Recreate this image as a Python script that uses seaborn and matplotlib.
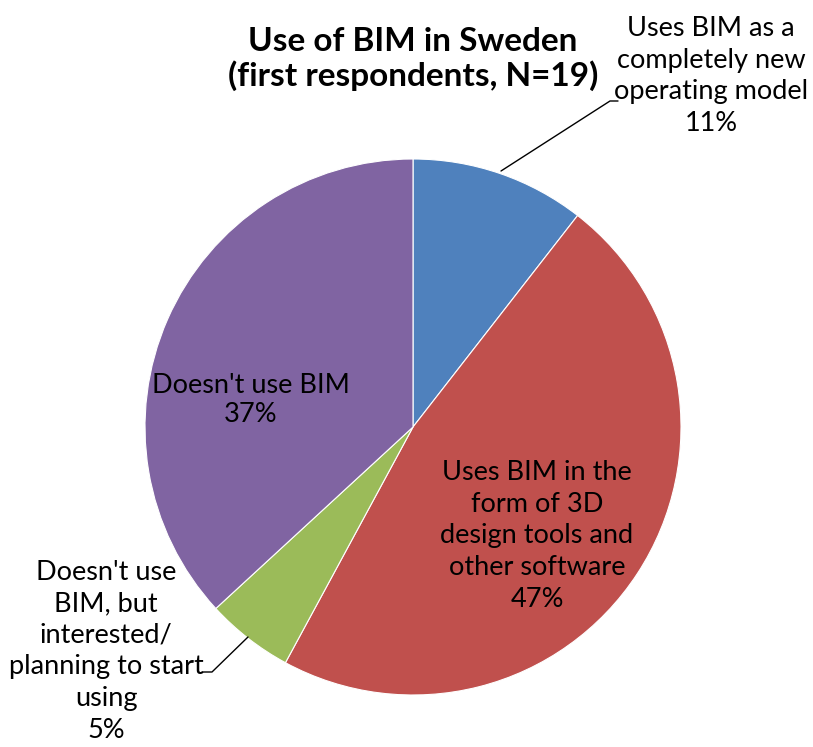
import matplotlib
matplotlib.use("Agg")
import matplotlib.pyplot as plt
import seaborn as sns

categories = ["Uses BIM as a\ncompletely new\noperating model",
              "Uses BIM in the\nform of 3D\ndesign tools and\nother software",
              "Doesn't use\nBIM, but\ninterested/\nplanning to start\nusing",
              "Doesn't use BIM"]
counts = [2, 9, 1, 7]
percent_labels = ["11%", "47%", "5%", "37%"]
title = "Use of BIM in Sweden\n(first respondents, N=19)"

sns.set_theme(style="white")
plt.rcParams['font.family'] = ['Lato', 'DejaVu Sans']

W, H = 813, 747
fig = plt.figure(figsize=(W / 100, H / 100), dpi=100)
ax = fig.add_axes([0, 0, 1, 1])

colors = ["#4F81BD", "#C0504D", "#9BBB59", "#8064A2"]
cx, cy, r = 413, H - 427, 268
ax.pie(counts, colors=colors, startangle=90, counterclock=False,
       center=(cx, cy), radius=r, frame=True,
       wedgeprops=dict(edgecolor="white", linewidth=0.8))
ax.set_xlim(0, W)
ax.set_ylim(0, H)
ax.set_aspect('equal')
ax.axis('off')

fs = 19.5
ls = 1.33
def Y(y):
    return H - y

ax.text(413, Y(59), title, ha='center', va='center', fontsize=24,
        fontweight='bold', linespacing=1.2, color='black')

# labels
ax.text(711, Y(76), categories[0] + "\n" + percent_labels[0], ha='center', va='center',
        fontsize=fs, linespacing=ls, color='black')
ax.text(537, Y(536), categories[1] + "\n" + percent_labels[1], ha='center', va='center',
        fontsize=fs, linespacing=ls, color='black')
ax.text(106, Y(651), categories[2] + "\n" + percent_labels[2], ha='center', va='center',
        fontsize=fs, linespacing=ls, color='black')
ax.text(251, Y(400), categories[3] + "\n" + percent_labels[3], ha='center', va='center',
        fontsize=fs, linespacing=1.18, color='black')

# leader lines
ax.plot([501, 610, 618], [Y(171), Y(101), Y(101)], color='black', lw=1)
ax.plot([248, 212, 202], [Y(637), Y(672), Y(672)], color='black', lw=1)

fig.savefig("out.png", dpi=100)
